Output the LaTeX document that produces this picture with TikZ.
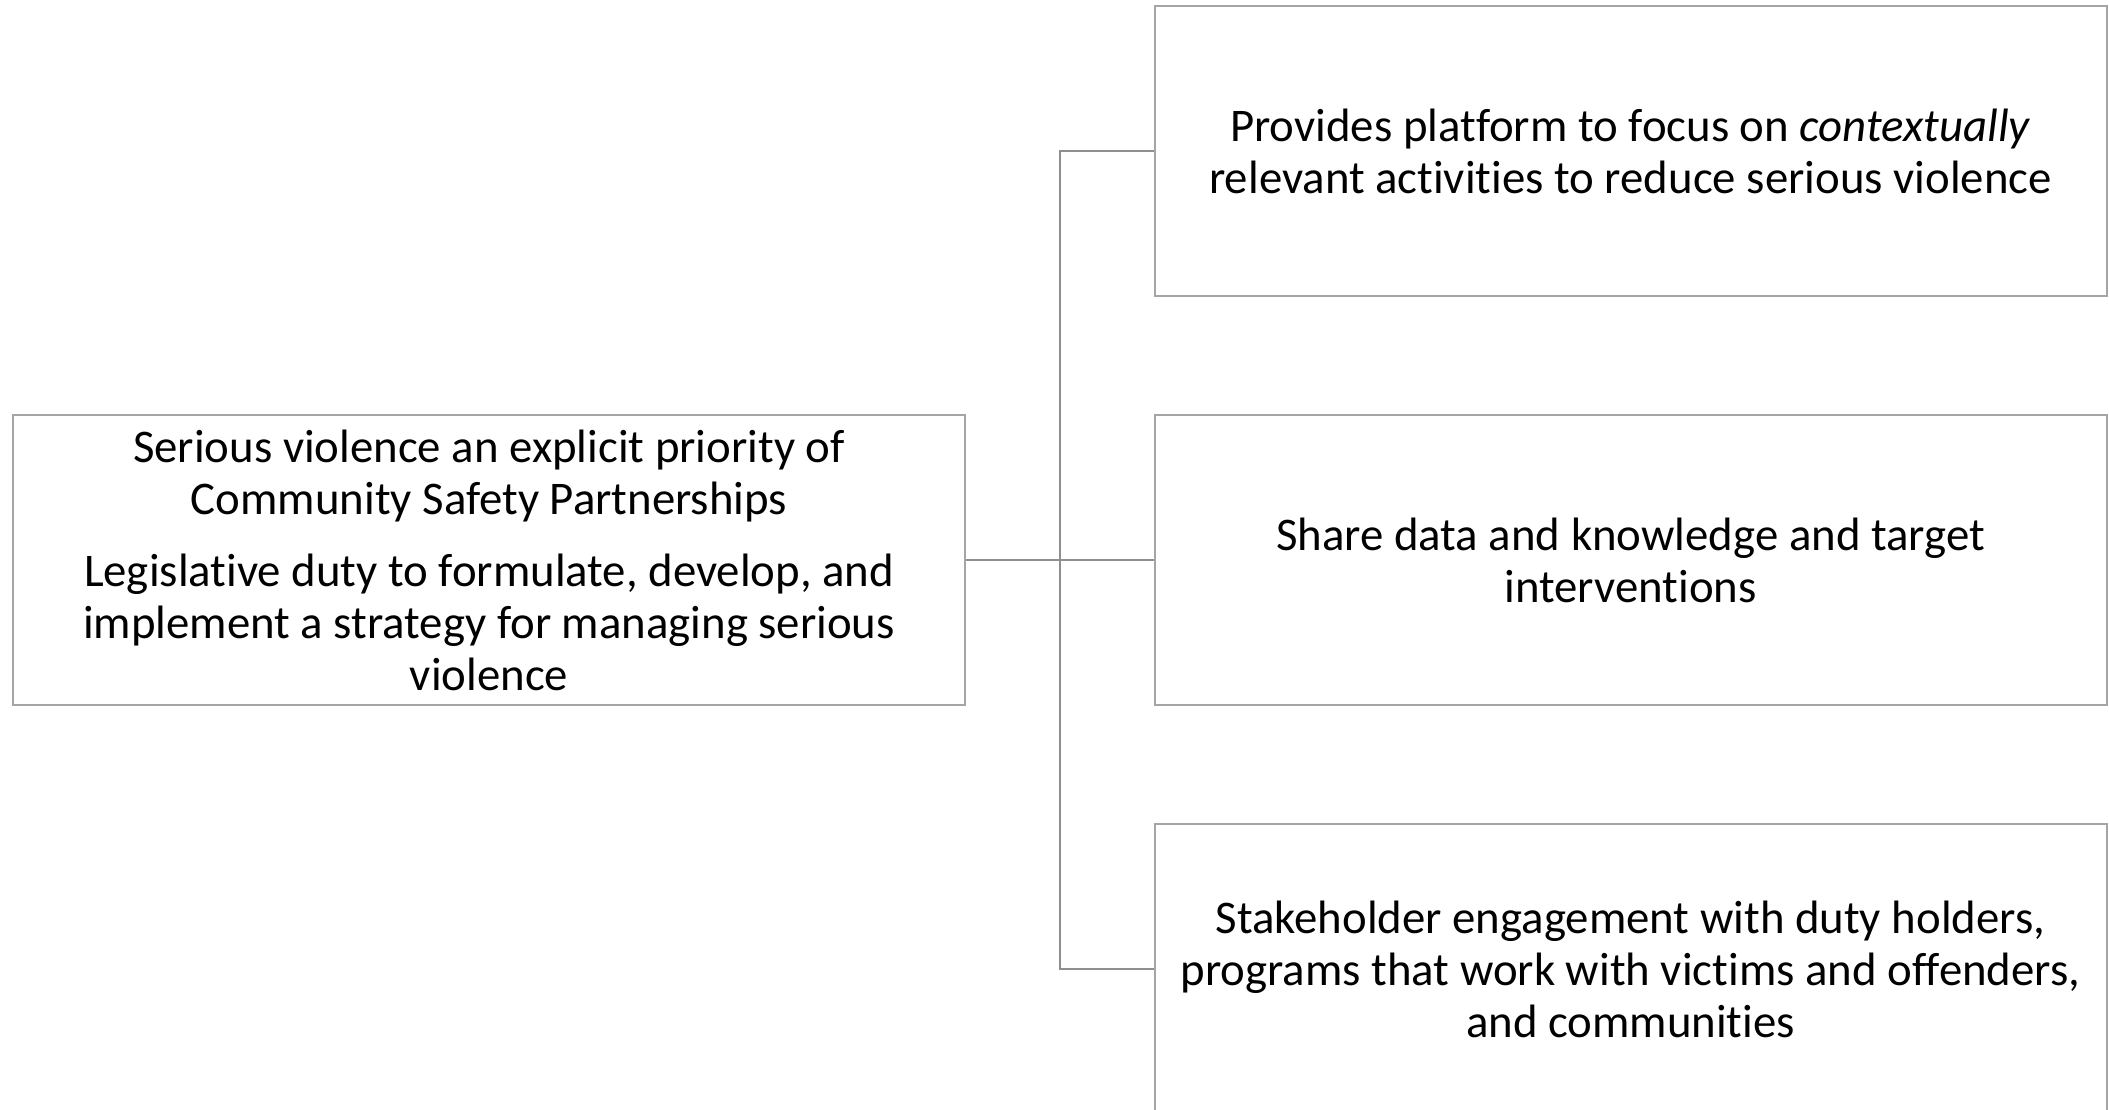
\documentclass[tikz,border=0pt]{standalone}
\usepackage{fontspec}
\setmainfont{Carlito}[Ligatures=NoCommon]
\usetikzlibrary{calc}
\definecolor{linkgray}{HTML}{8F8F8F}
\definecolor{boxgray}{HTML}{A5A5A5}

\begin{document}
\begin{tikzpicture}[x=0.5pt, y=-0.5pt,
    box/.style={draw=boxgray, line width=1pt, minimum width=476pt, minimum height=145pt,
        align=center, inner sep=0pt, font=\fontsize{23.4}{26}\selectfont},
    link/.style={draw=linkgray, line width=1pt}]
\useasboundingbox (0,0) rectangle (2109,1109);
\clip (0,0) rectangle (2109,1109);

% left block
\node[box] (csp) at (489,560) {Serious violence an explicit priority of\\
    Community Safety Partnerships\\[10pt]
    Legislative duty to formulate, develop, and\\
    implement a strategy for managing serious\\
    violence};

% right blocks
\node[box] (focus) at (1630.5,151) {Provides platform to focus on \textit{contextually}\\
    relevant activities to reduce serious violence};
\node[box] (share) at (1630.5,560) {Share data and knowledge and target\\
    interventions};
\node[box] (engage) at (1630.5,969) {Stakeholder engagement with duty holders,\\
    programs that work with victims and offenders,\\
    and communities};

% connectors
\coordinate (trunk) at (1060,560);
\draw[link] (csp.east) -- (share.west);
\draw[link] (focus.west) -| (trunk) |- (engage.west);

\end{tikzpicture}
\end{document}
